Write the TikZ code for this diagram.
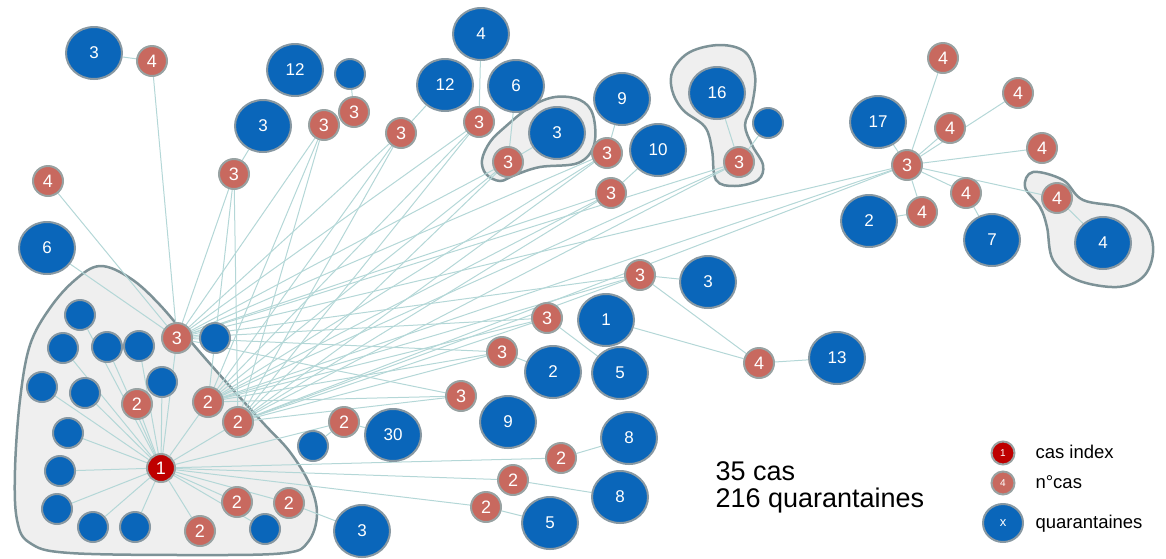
\documentclass[tikz,border=0pt]{standalone}
\usepackage{fontspec}
\setmainfont{Liberation Sans}
\usetikzlibrary{shapes.geometric,positioning}
\definecolor{qblue}{HTML}{0A66BA}
\definecolor{qrim}{HTML}{8898A2}
\definecolor{csalmon}{HTML}{C8695F}
\definecolor{crim}{HTML}{98A2A2}
\definecolor{idxred}{HTML}{BE0000}
\definecolor{lnkcol}{HTML}{B4D7D7}
\definecolor{hullfill}{HTML}{EFEFEF}
\definecolor{hullrim}{HTML}{7D9297}
\pgfdeclarelayer{hullback}
\pgfdeclarelayer{links}
\pgfsetlayers{hullback,links,main}

\begin{document}
\begin{tikzpicture}[
  x=1pt, y=-1pt,
  font=\fontsize{17}{20}\selectfont,
  quar/.style={ellipse, draw=qrim, line width=2pt, fill=qblue, text=white, minimum width=56pt, minimum height=52pt, inner sep=0pt},
  quars/.style={circle, draw=qrim, line width=2pt, fill=qblue, minimum size=30pt, inner sep=0pt},
  cas/.style={circle, draw=crim, line width=2pt, fill=csalmon, text=white, minimum size=30pt, inner sep=0pt, font=\fontsize{18}{20}\selectfont},
  casidx/.style={cas, fill=idxred, minimum size=28pt},
  lnk/.style={draw=lnkcol, line width=1pt},
  hull/.style={draw=hullrim, fill=hullfill, line width=2.5pt}
]
\useasboundingbox (0,0) rectangle (1166,558);

\begin{pgfonlayer}{hullback}
\draw[hull] plot[smooth cycle, tension=0.6] coordinates {(100,266) (130,278) (160,305) (198,350) (235,392) (265,425) (290,452) (310,485) (317,515) (308,542) (285,553) (200,555) (70,553) (30,543) (17,520) (15,470) (20,400) (30,345) (50,308) (75,280)};
\draw[hull] plot[smooth cycle, tension=0.6] coordinates {(482,160) (490,142) (505,127) (530,107) (555,97) (580,100) (593,115) (594,145) (578,163) (540,167) (515,175) (500,181) (486,174)};
\draw[hull] plot[smooth cycle, tension=0.6] coordinates {(673,70) (690,52) (720,45) (745,52) (755,75) (752,105) (745,125) (752,145) (763,165) (758,180) (735,186) (716,180) (712,150) (705,127) (683,110) (672,90)};
\draw[hull] plot[smooth cycle, tension=0.6] coordinates {(1025,187) (1033,172) (1063,180) (1083,200) (1123,208) (1147,227) (1153,253) (1143,277) (1117,287) (1077,280) (1053,260) (1047,227) (1040,207)};
\end{pgfonlayer}

\node[casidx] (ix) at (161,468) {1};
\node[cas] (k3) at (177,338) {3};
\node[cas] (k2a) at (208,402) {2};
\node[cas] (k2b) at (238,422) {2};
\node[cas] (k2c) at (137,404) {2};
\node[cas] (k2d) at (237,502) {2};
\node[cas] (k2e) at (289,503) {2};
\node[cas] (k2f) at (200,531) {2};
\node[quars] (h1) at (80,315) {};
\node[quars] (h2) at (63,348) {};
\node[quars] (h3) at (107,347) {};
\node[quars] (h4) at (139,346) {};
\node[quars] (h5) at (42,387) {};
\node[quars] (h6) at (85,393) {};
\node[quars] (h7) at (162,382) {};
\node[quars] (h8) at (68,433) {};
\node[quars] (h9) at (60,471) {};
\node[quars] (h10) at (57,509) {};
\node[quars] (h11) at (93,527) {};
\node[quars] (h12) at (135,527) {};
\node[quars] (h13) at (265,529) {};
\node[quars] (h14) at (215,338) {};

\node[quar] (q3a) at (94,53) {3};
\node[cas] (c4a) at (152,61) {4};
\node[quar] (q12a) at (295,70) {12};
\node[quars] (qs1) at (350,74) {};
\node[cas] (c3a) at (354,112) {3};
\node[quar] (q3b) at (263,126) {3};
\node[cas] (c3b) at (324,125) {3};
\node[cas] (c3c) at (234,174) {3};
\node[cas] (c3d) at (401,133) {3};
\node[quar] (q12b) at (445,85) {12};
\node[quar] (q4a) at (481,34) {4};
\node[quar] (q6a) at (516,86) {6};
\node[cas] (c3e) at (479,122) {3};
\node[cas] (c3f) at (508,162) {3};
\node[quar] (q3c) at (557,133) {3};
\node[quar] (q9a) at (622,99) {9};
\node[cas] (c3g) at (607,153) {3};
\node[quar] (q10) at (658,150) {10};
\node[cas] (c3h) at (611,193) {3};
\node[quar] (q16) at (717,93) {16};
\node[cas] (c3i) at (739,162) {3};
\node[quars] (qs2) at (768,123) {};

\node[cas] (c3j) at (907,165) {3};
\node[quar] (q17) at (878,122) {17};
\node[cas] (c4b) at (943,58) {4};
\node[cas] (c4c) at (1018,93) {4};
\node[cas] (c4d) at (950,128) {4};
\node[cas] (c4e) at (1042,148) {4};
\node[cas] (c4f) at (966,193) {4};
\node[cas] (c4g) at (922,212) {4};
\node[cas] (c4h) at (1057,198) {4};
\node[quar] (q2a) at (869,221) {2};
\node[quar] (q7) at (992,240) {7};
\node[quar] (q4b) at (1103,243) {4};

\node[cas] (c4i) at (48,181) {4};
\node[quar] (q6b) at (47,248) {6};
\node[cas] (c3k) at (640,275) {3};
\node[quar] (q3d) at (708,282) {3};
\node[cas] (c3l) at (547,318) {3};
\node[quar] (q1) at (606,320) {1};
\node[cas] (c3m) at (502,352) {3};
\node[quar] (q2b) at (553,372) {2};
\node[quar] (q5a) at (620,373) {5};
\node[cas] (c3n) at (461,396) {3};
\node[quar] (q9b) at (508,422) {9};
\node[cas] (c4j) at (759,363) {4};
\node[quar] (q13) at (837,358) {13};
\node[cas] (c2a) at (344,422) {2};
\node[quar] (q30) at (393,435) {30};
\node[quars] (qs3) at (313,446) {};
\node[cas] (c2b) at (561,458) {2};
\node[quar] (q8a) at (629,438) {8};
\node[cas] (c2c) at (513,480) {2};
\node[quar] (q8b) at (620,497) {8};
\node[cas] (c2d) at (486,507) {2};
\node[quar] (q5b) at (550,523) {5};
\node[quar] (q3e) at (362,531) {3};

\node[anchor=base west, font=\fontsize{27}{32}\selectfont] (tc) at (712,480) {35 cas};
\node[anchor=base west, font=\fontsize{27}{32}\selectfont] (tq) at (712,507) {216 quarantaines};

\node[casidx, minimum size=23pt, font=\fontsize{10}{12}\selectfont] (lg1) at (1003,453) {1};
\node[cas, minimum size=23pt, font=\fontsize{10}{12}\selectfont] (lg2) at (1003,483) {4};
\node[quar, minimum width=40pt, minimum height=38pt, font=\fontsize{13}{15}\selectfont] (lg3) at (1003,523) {x};
\node[anchor=base west, font=\fontsize{18.5}{22}\selectfont] (lt1) at (1032,458) {cas index};
\node[anchor=base west, font=\fontsize{18.5}{22}\selectfont] (lt2) at (1032,488) {n°cas};
\node[anchor=base west, font=\fontsize{18.5}{22}\selectfont] (lt3) at (1032,528) {quarantaines};

\begin{pgfonlayer}{links}
\foreach \s in {k3,k2a,k2b}
  \foreach \t in {c3b,c3c,c3d,c3e,c3f,c3g,c3h,c3i,c3j,c3k,c3l,c3m,c3n}
    \draw[lnk] (\s) -- (\t);
\foreach \t in {h1,h2,h3,h4,h5,h6,h7,h8,h9,h10,h11,h12,h13,k3,k2a,k2b,k2c,k2d,k2e,k2f,c2a,c2b,c2c,c2d}
  \draw[lnk] (ix) -- (\t);
\foreach \t in {q17,c4b,c4c,c4d,c4e,c4f,c4g,c4h}
  \draw[lnk] (c3j) -- (\t);
\draw[lnk] (q3a) -- (c4a);
\draw[lnk] (c4a) -- (k3);
\draw[lnk] (c4i) -- (k3);
\draw[lnk] (q6b) -- (k3);
\draw[lnk] (qs1) -- (c3a);
\draw[lnk] (q3b) -- (c3c);
\draw[lnk] (q12b) -- (c3d);
\draw[lnk] (q4a) -- (c3e);
\draw[lnk] (q6a) -- (c3f);
\draw[lnk] (q3c) -- (c3f);
\draw[lnk] (q9a) -- (c3g);
\draw[lnk] (q10) -- (c3h);
\draw[lnk] (q16) -- (c3i);
\draw[lnk] (qs2) -- (c3i);
\draw[lnk] (c4g) -- (q2a);
\draw[lnk] (c4f) -- (q7);
\draw[lnk] (c4h) -- (q4b);
\draw[lnk] (c3k) -- (q3d);
\draw[lnk] (c3k) -- (c4j);
\draw[lnk] (q1) -- (c4j);
\draw[lnk] (c4j) -- (q13);
\draw[lnk] (c3l) -- (q5a);
\draw[lnk] (c3m) -- (q2b);
\draw[lnk] (c2a) -- (q30);
\draw[lnk] (c2a) -- (qs3);
\draw[lnk] (c2b) -- (q8a);
\draw[lnk] (c2c) -- (q8b);
\draw[lnk] (c2d) -- (q5b);
\draw[lnk] (k2e) -- (q3e);
\end{pgfonlayer}
\end{tikzpicture}
\end{document}
